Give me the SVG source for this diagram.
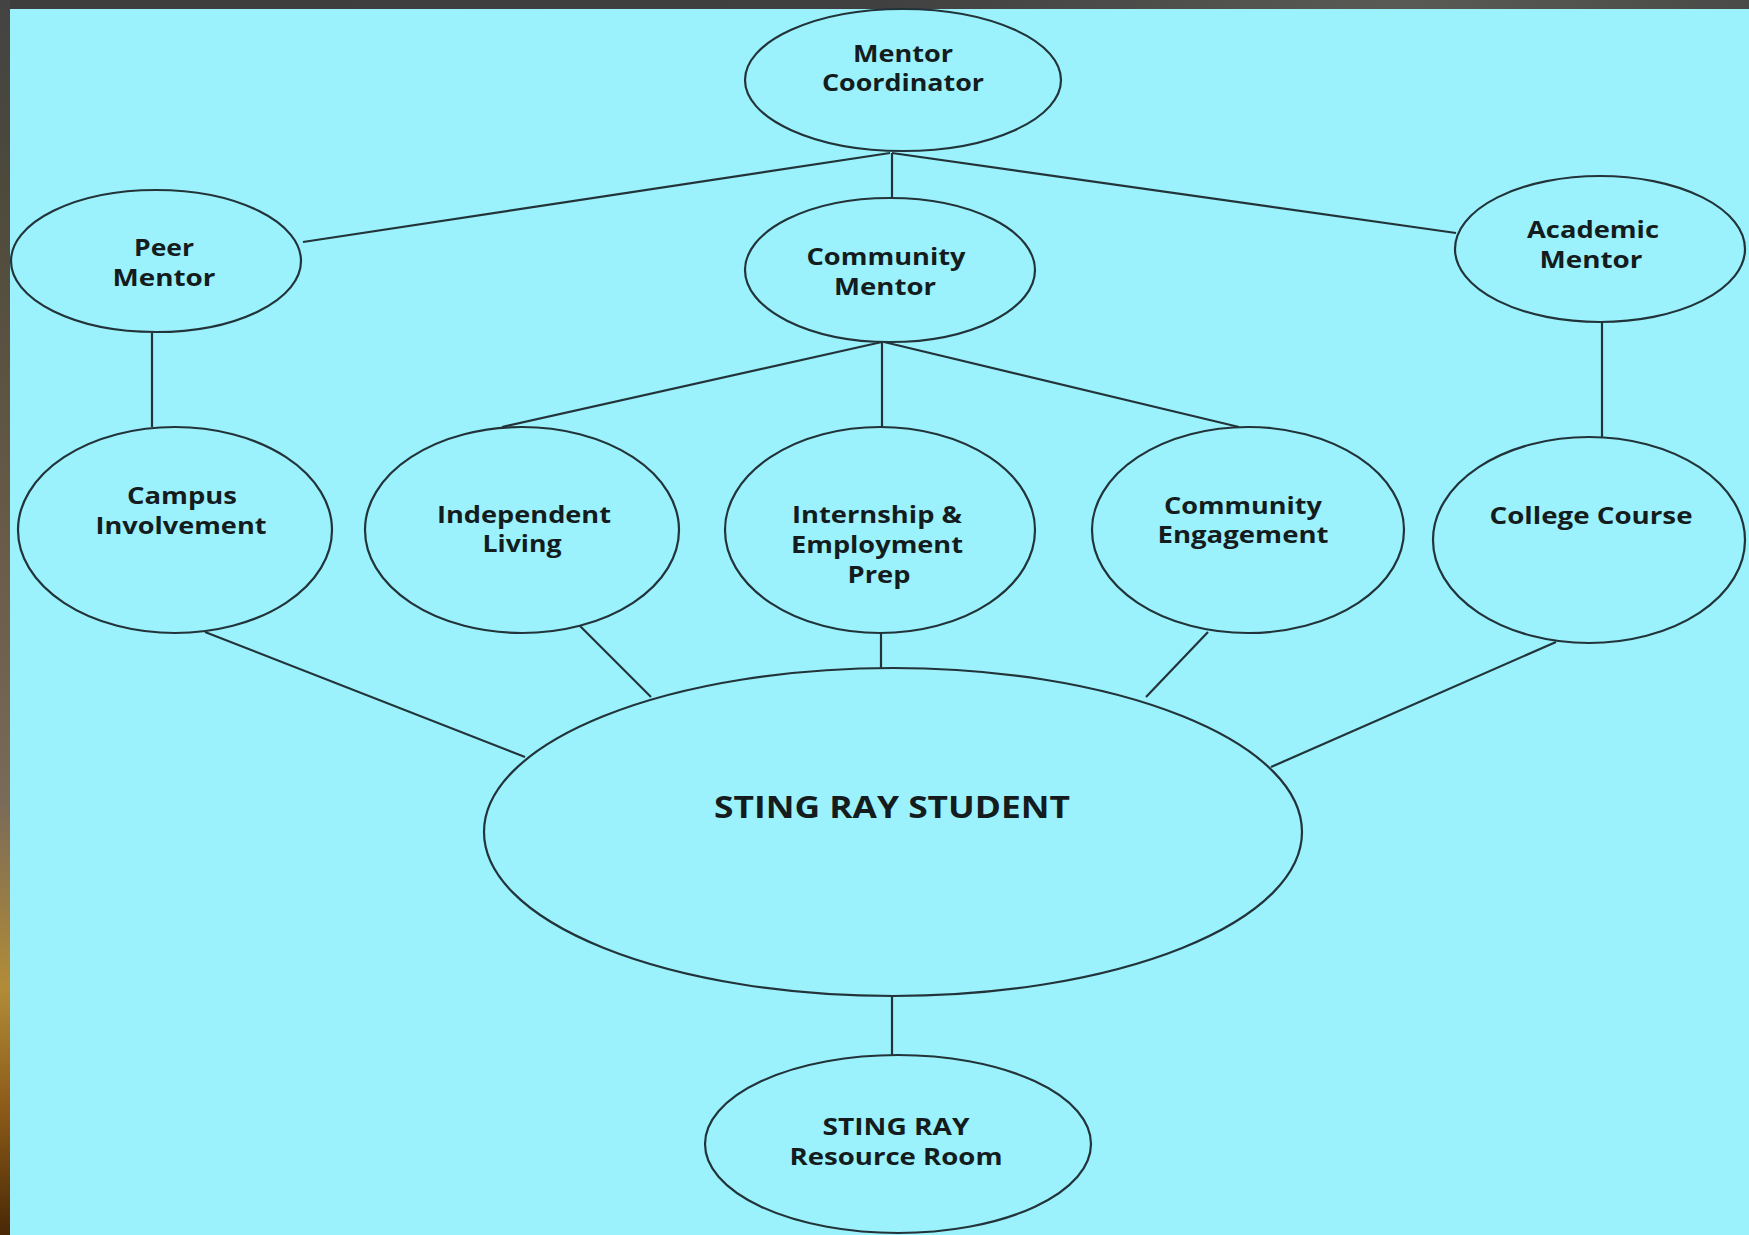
<svg xmlns="http://www.w3.org/2000/svg" width="1749" height="1235" viewBox="0 0 1749 1235">
  <defs>
    <linearGradient id="leftBand" x1="0" y1="0" x2="0" y2="1">
      <stop offset="0" stop-color="#434343"/>
      <stop offset="0.15" stop-color="#4d4a3c"/>
      <stop offset="0.45" stop-color="#6a5c48"/>
      <stop offset="0.65" stop-color="#7a6a58"/>
      <stop offset="0.8" stop-color="#b28c38"/>
      <stop offset="0.9" stop-color="#8a5a18"/>
      <stop offset="1" stop-color="#4a2806"/>
    </linearGradient>
    <linearGradient id="topBand" x1="0" y1="0" x2="1" y2="0">
      <stop offset="0" stop-color="#3e3e3e"/>
      <stop offset="0.5" stop-color="#404040"/>
      <stop offset="0.8" stop-color="#5a5a55"/>
      <stop offset="1" stop-color="#4a4a48"/>
    </linearGradient>
  </defs>
  <style>
    .node { fill: #9bf2fc; stroke: #22343a; stroke-width: 2.2; }
    .conn line { stroke: #22343a; stroke-width: 2.2; }
    .lbl { font-family: "Open Sans", "Liberation Sans", sans-serif; font-weight: 700; font-size: 23px; fill: #141c1e; text-anchor: middle; }
    .big { font-size: 30px; }
  </style>

  <rect x="0" y="0" width="1749" height="1235" fill="#9bf2fc"/>
  <rect x="0" y="0" width="1749" height="9" fill="url(#topBand)"/>
  <rect x="0" y="0" width="10" height="1235" fill="url(#leftBand)"/>

  <g id="connectors" class="conn">
    <line x1="890" y1="153" x2="303" y2="242"/>
    <line x1="892" y1="153" x2="1456" y2="233"/>
    <line x1="892" y1="153" x2="892" y2="198"/>
    <line x1="152" y1="333" x2="152" y2="427"/>
    <line x1="1602" y1="322" x2="1602" y2="437"/>
    <line x1="882" y1="342" x2="502" y2="427"/>
    <line x1="882" y1="342" x2="882" y2="427"/>
    <line x1="884" y1="342" x2="1239" y2="427"/>
    <line x1="205" y1="632" x2="525" y2="757"/>
    <line x1="580" y1="626" x2="651" y2="697"/>
    <line x1="881" y1="633" x2="881" y2="668"/>
    <line x1="1208" y1="632" x2="1146" y2="697"/>
    <line x1="1556" y1="642" x2="1271" y2="767"/>
    <line x1="892" y1="996" x2="892" y2="1055"/>
  </g>

  <g id="mentor-coordinator">
    <ellipse class="node" cx="903" cy="80" rx="158" ry="71"/>
    <text class="lbl" x="903" y="62" textLength="100" lengthAdjust="spacingAndGlyphs">Mentor</text>
    <text class="lbl" x="903" y="91" textLength="162" lengthAdjust="spacingAndGlyphs">Coordinator</text>
  </g>

  <g id="peer-mentor">
    <ellipse class="node" cx="156" cy="261" rx="145" ry="71"/>
    <text class="lbl" x="164" y="256" textLength="60" lengthAdjust="spacingAndGlyphs">Peer</text>
    <text class="lbl" x="164" y="286" textLength="103" lengthAdjust="spacingAndGlyphs">Mentor</text>
  </g>

  <g id="community-mentor">
    <ellipse class="node" cx="890" cy="270" rx="145" ry="72"/>
    <text class="lbl" x="886" y="265" textLength="159" lengthAdjust="spacingAndGlyphs">Community</text>
    <text class="lbl" x="885" y="295" textLength="102" lengthAdjust="spacingAndGlyphs">Mentor</text>
  </g>

  <g id="academic-mentor">
    <ellipse class="node" cx="1600" cy="249" rx="145" ry="73"/>
    <text class="lbl" x="1593" y="238" textLength="132" lengthAdjust="spacingAndGlyphs">Academic</text>
    <text class="lbl" x="1591" y="268" textLength="103" lengthAdjust="spacingAndGlyphs">Mentor</text>
  </g>

  <g id="campus-involvement">
    <ellipse class="node" cx="175" cy="530" rx="157" ry="103"/>
    <text class="lbl" x="182" y="504" textLength="110" lengthAdjust="spacingAndGlyphs">Campus</text>
    <text class="lbl" x="181" y="534" textLength="171" lengthAdjust="spacingAndGlyphs">Involvement</text>
  </g>

  <g id="independent-living">
    <ellipse class="node" cx="522" cy="530" rx="157" ry="103"/>
    <text class="lbl" x="524" y="523" textLength="174" lengthAdjust="spacingAndGlyphs">Independent</text>
    <text class="lbl" x="522" y="552" textLength="79" lengthAdjust="spacingAndGlyphs">Living</text>
  </g>

  <g id="internship-employment-prep">
    <ellipse class="node" cx="880" cy="530" rx="155" ry="103"/>
    <text class="lbl" x="877" y="523" textLength="170" lengthAdjust="spacingAndGlyphs">Internship &amp;</text>
    <text class="lbl" x="877" y="553" textLength="172" lengthAdjust="spacingAndGlyphs">Employment</text>
    <text class="lbl" x="879" y="583" textLength="63" lengthAdjust="spacingAndGlyphs">Prep</text>
  </g>

  <g id="community-engagement">
    <ellipse class="node" cx="1248" cy="530" rx="156" ry="103"/>
    <text class="lbl" x="1243" y="514" textLength="158" lengthAdjust="spacingAndGlyphs">Community</text>
    <text class="lbl" x="1243" y="543" textLength="171" lengthAdjust="spacingAndGlyphs">Engagement</text>
  </g>

  <g id="college-course">
    <ellipse class="node" cx="1589" cy="540" rx="156" ry="103"/>
    <text class="lbl" x="1591" y="524" textLength="203" lengthAdjust="spacingAndGlyphs">College Course</text>
  </g>

  <g id="sting-ray-student">
    <ellipse class="node" cx="893" cy="832" rx="409" ry="164"/>
    <text class="lbl big" x="892" y="818" textLength="356" lengthAdjust="spacingAndGlyphs">STING RAY STUDENT</text>
  </g>

  <g id="sting-ray-resource-room">
    <ellipse class="node" cx="898" cy="1144" rx="193" ry="89"/>
    <text class="lbl" x="896" y="1135" textLength="147" lengthAdjust="spacingAndGlyphs">STING RAY</text>
    <text class="lbl" x="896" y="1165" textLength="213" lengthAdjust="spacingAndGlyphs">Resource Room</text>
  </g>
</svg>
